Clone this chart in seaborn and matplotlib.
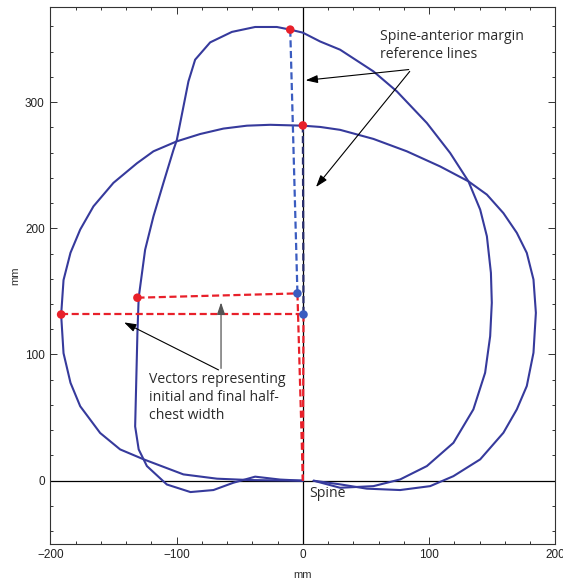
import matplotlib
matplotlib.use("Agg")
import matplotlib.pyplot as plt
import seaborn as sns
import pandas as pd
from matplotlib.ticker import MultipleLocator

sns.set_theme(style="white")
plt.rcParams['font.family'] = ['Liberation Sans', 'DejaVu Sans']

# Curve A: wide chest outline
a_x = [0, -41.7, -68, -94.6, -126, -144.7, -160.5, -176.3, -184, -189.5, -191.4, -189.5,
       -184, -176.3, -165.8, -150, -131.4, -118.3, -99.8, -81.3, -62.9, -44.3, -25.9, 0,
       13.7, 29.5, 55.9, 82.3, 108.7, 131.1, 145.7, 158.8, 169.4, 177.3, 182.6, 184.5,
       182.6, 177.3, 169.4, 158.8, 140.4, 119.2, 100.8, 77, 50.6, 29.5, 8.5]
a_y = [0, 0.5, 1.6, 5, 16.9, 24.8, 37.8, 59, 77.6, 101, 131.4, 159, 180.6, 199, 217.4,
       236, 251.5, 261, 268.9, 274.7, 279, 281.3, 282, 281.3, 280.3, 278, 270.8, 261, 249,
       237.2, 226.7, 212, 196.4, 180.5, 159.4, 133, 101.4, 75, 56.5, 38, 16.9, 3.6, -4.3,
       -7.4, -6.3, -2.9, 0]

# Curve B: tall chest outline
b_x = [0, -18, -37.8, -55, -70.8, -89, -107.7, -123.5, -130, -132.8, -131, -130, -124.9,
       -118.3, -110.4, -102.5, -99.8, -90.6, -85.3, -73.4, -56.2, -37.8, -20.6, -10, 0,
       13.7, 29.5, 55.9, 74.4, 98.2, 116.6, 131.1, 140.4, 145.7, 148.9, 149.6, 148.3,
       144.3, 135, 119.2, 98.2, 77, 55.9, 29.5, 8.5]
b_y = [0, 0.9, 3.2, -1.6, -7.4, -9, -3, 11.6, 24.8, 43, 117, 145, 183, 209.5, 236, 262,
       270, 316.4, 333.6, 347.3, 355.6, 359.5, 359.5, 357.4, 355, 348, 341.5, 324.3, 308.5,
       283.4, 259.7, 237.2, 214.8, 193.7, 164.7, 141, 114.5, 85.5, 56.5, 30, 11.6, 1,
       -4.3, -5.6, 0]

# Reference points
red_pts_x = [-10, 0, -131, -191.4]
red_pts_y = [357.4, 281.5, 145, 131.7]
blue_pts_x = [-4.3, 0.5]
blue_pts_y = [148.4, 131.7]

navy = "#363a9c"
red = "#e8202a"
blue = "#3a5cc0"

fig = plt.figure(figsize=(5.63, 5.80), dpi=100)
ax = fig.add_axes([0.0893, 0.0624, 0.8973, 0.9248])

ax.axhline(0, color="black", lw=0.9, zorder=1)
ax.axvline(0, color="black", lw=0.9, zorder=1)

dfa = pd.DataFrame({"x": a_x, "y": a_y})
dfb = pd.DataFrame({"x": b_x, "y": b_y})
sns.lineplot(data=dfa, x="x", y="y", sort=False, estimator=None, color=navy, lw=1.5, ax=ax, zorder=2)
sns.lineplot(data=dfb, x="x", y="y", sort=False, estimator=None, color=navy, lw=1.5, ax=ax, zorder=2)

# dashed reference lines
dash = (0, (3.2, 1.6))
ax.plot([red_pts_x[0], blue_pts_x[0]], [red_pts_y[0], blue_pts_y[0]], color="#3a5cc0", lw=1.6, ls=dash, zorder=3)
ax.plot([red_pts_x[1], blue_pts_x[1]], [red_pts_y[1], blue_pts_y[1]], color="#2a2f6e", lw=1.6, ls=dash, zorder=3)
ax.plot([red_pts_x[2], blue_pts_x[0]], [red_pts_y[2], blue_pts_y[0]], color=red, lw=1.6, ls=dash, zorder=3)
ax.plot([red_pts_x[3], blue_pts_x[1]], [red_pts_y[3], blue_pts_y[1]], color=red, lw=1.6, ls=dash, zorder=3)
ax.plot([blue_pts_x[0], 0], [blue_pts_y[0], 0], color=red, lw=1.6, ls=dash, zorder=3)
ax.plot([blue_pts_x[1], 0], [blue_pts_y[1], 0], color=red, lw=1.6, ls=dash, zorder=3)

sns.scatterplot(x=red_pts_x, y=red_pts_y, color=red, s=38, edgecolor="none", ax=ax, zorder=4)
sns.scatterplot(x=blue_pts_x, y=blue_pts_y, color=blue, s=38, edgecolor="none", ax=ax, zorder=4)

# annotations
tfont = dict(family=['Open Sans', 'DejaVu Sans'], fontsize=10.1, color="#2b2b2b")
ax.text(61, 358, "Spine-anterior margin\nreference lines", va="top", ha="left", linespacing=1.25, **tfont)
ax.text(-121.6, 86, "Vectors representing\ninitial and final half-\nchest width", va="top", ha="left", linespacing=1.25, **tfont)
ax.text(4.8, -4, "Spine", va="top", ha="left", **tfont)

arr = dict(arrowstyle="-|>,head_length=0.6,head_width=0.2", color="black", lw=0.8, mutation_scale=12)
ax.annotate("", xy=(0, 317), xytext=(86, 326), arrowprops=arr)
ax.annotate("", xy=(9, 231), xytext=(86, 326), arrowprops=arr)
ax.annotate("", xy=(-64.8, 143.5), xytext=(-64.8, 86.8),
            arrowprops=dict(arrowstyle="-|>,head_length=0.6,head_width=0.2", color="#555555", lw=0.9, mutation_scale=12))
ax.annotate("", xy=(-143.5, 126.4), xytext=(-64.8, 86.8), arrowprops=arr)

ax.set_xlim(-200, 200)
ax.set_ylim(-50, 375)
ax.xaxis.set_major_locator(MultipleLocator(100))
ax.xaxis.set_minor_locator(MultipleLocator(20))
ax.yaxis.set_major_locator(MultipleLocator(100))
ax.yaxis.set_minor_locator(MultipleLocator(20))
ax.tick_params(which="both", direction="in", top=True, right=True, bottom=True, left=True,
               labelsize=8.5, colors="#333333", width=0.7)
ax.tick_params(which="major", length=5)
ax.tick_params(which="minor", length=2.5)
ax.tick_params(axis="both", labelcolor="#222222", pad=4)
for s in ax.spines.values():
    s.set_color("#333333")
    s.set_linewidth(0.8)
ax.set_xlabel("mm", fontsize=8, color="#333333", labelpad=6)
ax.set_ylabel("mm", fontsize=8, color="#333333", labelpad=3)

fig.savefig("out.png", dpi=100)
